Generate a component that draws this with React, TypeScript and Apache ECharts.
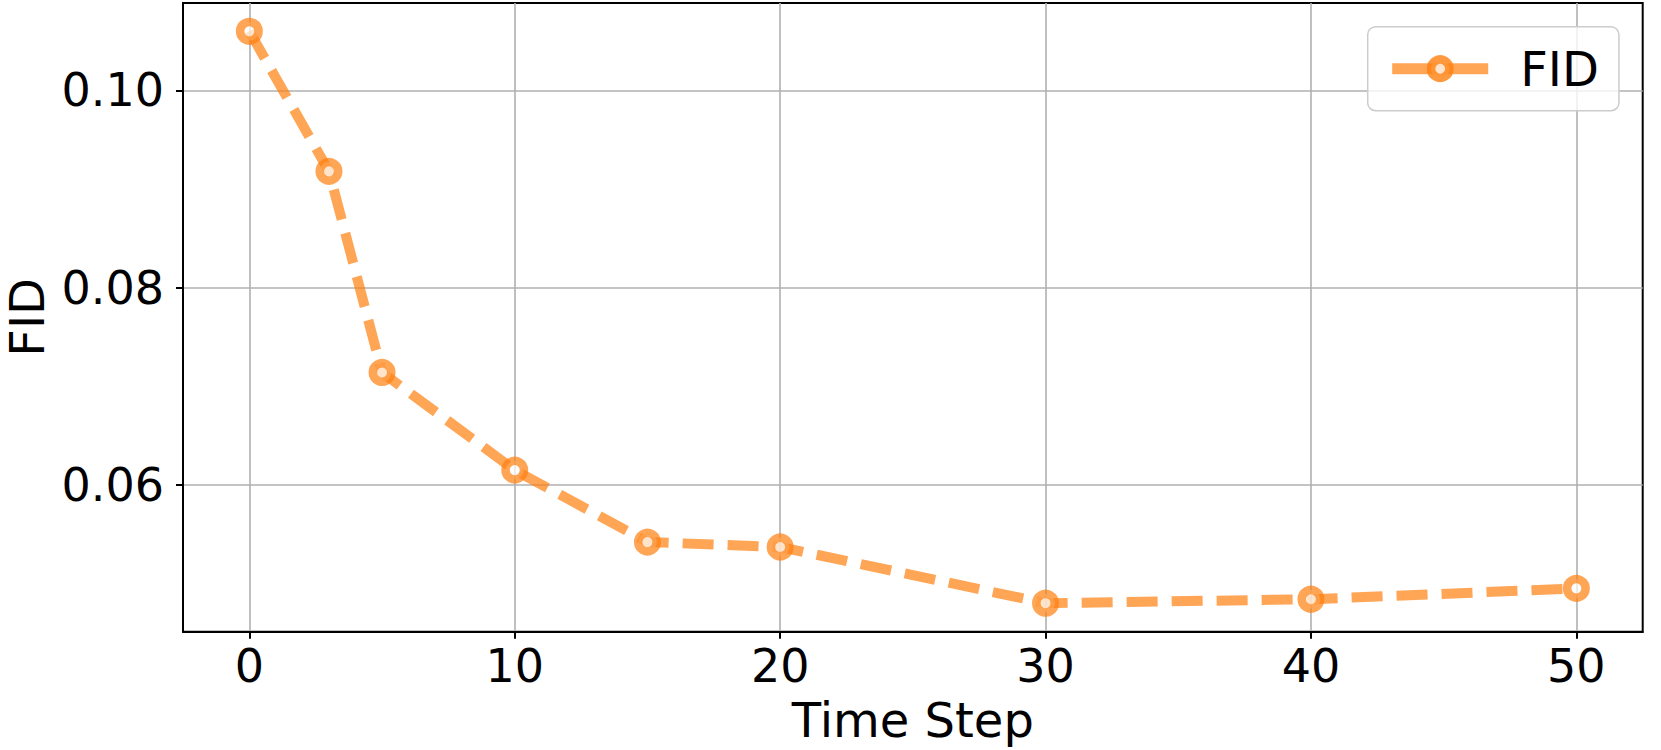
import React, { useEffect, useRef } from "react";
import * as echarts from "echarts";

const timeSteps = [0, 3, 5, 10, 15, 20, 30, 40, 50];
const fidValues = [0.106, 0.0918, 0.0714, 0.0615, 0.0542, 0.0537, 0.048, 0.0484, 0.0495];
const xTicks = [0, 10, 20, 30, 40, 50];
const yTicks = [0.06, 0.08, 0.1];
const seriesName = "FID";
const xAxisName = "Time Step";
const yAxisName = "FID";

const FONT = "DejaVu Sans";

export default function App() {
  const ref = useRef<HTMLDivElement>(null);
  useEffect(() => {
    if (!ref.current) return;
    const chart = echarts.init(ref.current, undefined, { renderer: "svg" });
    const data = timeSteps.map((t, i) => [t, fidValues[i]]);
    const lineColor = "rgba(255,127,14,0.7)";
    chart.setOption({
      animation: false,
      backgroundColor: "#ffffff",
      grid: {
        left: 183,
        right: 18.3,
        top: 3,
        bottom: 118.3,
        show: true,
        borderColor: "#000",
        borderWidth: 2,
        containLabel: false,
        outerBoundsMode: "none",
      },
      legend: {
        show: true,
        left: 1367.7,
        top: 26.7,
        orient: "horizontal",
        padding: [18, 20, 18, 19],
        backgroundColor: "rgba(255,255,255,0.8)",
        borderColor: "#cccccc",
        borderWidth: 1.5,
        borderRadius: 8,
        itemWidth: 96,
        itemHeight: 23,
        textStyle: {
          fontFamily: FONT,
          fontSize: 48,
          color: "#000",
          padding: [0, 0, 0, 27],
        },
        lineStyle: { type: "solid", width: 11, color: lineColor },
        itemStyle: {
          color: "rgba(255,255,255,0.7)",
          borderColor: "rgba(255,127,14,0.8)",
          borderWidth: 8.5,
        },
        data: [seriesName],
      },
      xAxis: {
        type: "value",
        min: -2.5,
        max: 52.5,
        splitNumber: 5,
        name: xAxisName,
        nameLocation: "middle",
        nameGap: 64,
        nameTextStyle: { fontFamily: FONT, fontSize: 48, color: "#000" },
        axisLine: { show: true, onZero: false, lineStyle: { color: "#000", width: 2 } },
        axisTick: {
          show: true,
          length: 7,
          lineStyle: { color: "#000", width: 2 },
          customValues: xTicks,
        },
        axisLabel: {
          fontFamily: FONT,
          fontSize: 46,
          color: "#000",
          margin: 11,
          customValues: xTicks,
          formatter: (v: number) => String(v),
        },
        splitLine: { show: true, lineStyle: { color: "#b0b0b0", width: 1.6 } },
      },
      yAxis: {
        type: "value",
        min: 0.04511,
        max: 0.10887,
        splitNumber: 3,
        name: yAxisName,
        nameLocation: "middle",
        nameGap: 134,
        nameTextStyle: { fontFamily: FONT, fontSize: 48, color: "#000", lineHeight: 40 },
        axisLine: { show: true, onZero: false, lineStyle: { color: "#000", width: 2 } },
        axisTick: {
          show: true,
          length: 7,
          lineStyle: { color: "#000", width: 2 },
          customValues: yTicks,
        },
        axisLabel: {
          fontFamily: FONT,
          fontSize: 46,
          color: "#000",
          margin: 19,
          customValues: yTicks,
          formatter: (v: number) => v.toFixed(2),
        },
        splitLine: { show: true, lineStyle: { color: "#b0b0b0", width: 1.6 } },
      },
      series: [
        {
          name: seriesName,
          type: "line",
          data,
          symbol: "circle",
          symbolSize: 18.5,
          showAllSymbol: true,
          lineStyle: {
            color: lineColor,
            width: 10,
            type: [31, 14],
            cap: "butt",
          },
          itemStyle: {
            color: "rgba(255,255,255,0.7)",
            borderColor: lineColor,
            borderWidth: 8.5,
          },
          emphasis: { disabled: true },
        },
      ],
    });
    return () => chart.dispose();
  }, []);
  return (
    <div
      ref={ref}
      style={{ position: "fixed", left: 0, top: 0, width: 1661, height: 750 }}
    />
  );
}
